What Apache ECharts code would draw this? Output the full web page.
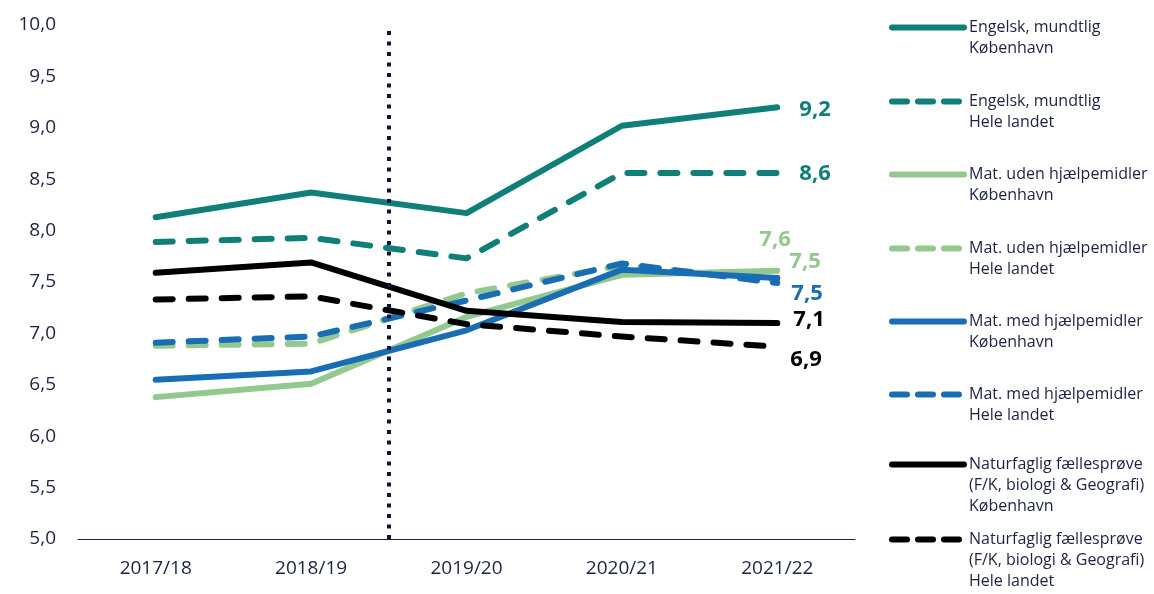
<!DOCTYPE html>
<html>
<head>
<meta charset="utf-8">
<script src="https://cdn.jsdelivr.net/npm/echarts@6/dist/echarts.min.js"></script>
<style>
html,body{margin:0;padding:0;background:#fff;}
#chart{width:1154px;height:594px;}
</style>
</head>
<body>
<div id="chart"></div>
<script>
// data
var categories = ['2017/18', '2018/19', '2019/20', '2020/21', '2021/22'];
var engKbh = [8.13, 8.37, 8.17, 9.02, 9.2];
var engHele = [7.89, 7.93, 7.73, 8.56, 8.56];
var matUdenKbh = [6.38, 6.51, 7.16, 7.57, 7.61];
var matUdenHele = [6.88, 6.90, 7.39, 7.66, 7.52];
var matMedKbh = [6.55, 6.63, 7.03, 7.62, 7.54];
var matMedHele = [6.91, 6.97, 7.32, 7.68, 7.49];
var natKbh = [7.59, 7.69, 7.22, 7.11, 7.1];
var natHele = [7.33, 7.36, 7.09, 6.97, 6.87];
var yTicks = { min: 5, max: 10, step: 0.5 };
var splitAfter = 2; // dotted line between 2018/19 and 2019/20

var teal = '#0f7f78', green = '#93c88e', blue = '#196db5', black = '#000000', navy = '#1b2343';
var dashes = [17, 16];
var lw = 6;
var font = '"Open Sans", "Noto Sans", sans-serif';

function komma(v) { return v.toFixed(1).replace('.', ','); }

function lineSerie(name, data, color, dashed, lbl) {
    var s = {
        name: name,
        type: 'line',
        data: data,
        symbol: 'none',
        lineStyle: { color: color, width: lw, type: dashed ? dashes : 'solid', cap: 'round', join: 'round' },
        itemStyle: { color: color },
        emphasis: { disabled: true }
    };
    if (lbl) {
        s.endLabel = {
            show: true,
            distance: 18,
            offset: lbl,
            formatter: function (p) { return komma(p.value); },
            color: color,
            fontFamily: font,
            fontWeight: 'bold',
            fontSize: 22
        };
    }
    return s;
}

var names = [
    'Engelsk, mundtlig\nKøbenhavn',
    'Engelsk, mundtlig\nHele landet',
    'Mat. uden hjælpemidler\nKøbenhavn',
    'Mat. uden hjælpemidler\nHele landet',
    'Mat. med hjælpemidler\nKøbenhavn',
    'Mat. med hjælpemidler\nHele landet',
    'Naturfaglig fællesprøve\n(F/K, biologi & Geografi)\nKøbenhavn',
    'Naturfaglig fællesprøve\n(F/K, biologi & Geografi)\nHele landet'
];
var legendY = [26, 100, 173, 247, 320, 393, 467, 542];
var lh = 21;

var series = [
    lineSerie(names[0], engKbh, teal, false, [4, 2]),
    lineSerie(names[1], engHele, teal, true, [4, 1]),
    lineSerie(names[2], matUdenKbh, green, false, [-36, -31]),
    lineSerie(names[3], matUdenHele, green, true, [-6, -18]),
    lineSerie(names[4], matMedKbh, blue, false, [-4, 16]),
    lineSerie(names[5], matMedHele, blue, true, null),
    lineSerie(names[6], natKbh, black, false, [-2, -3]),
    lineSerie(names[7], natHele, black, true, [-5, 13]),
    {
        type: 'line',
        xAxisIndex: 1,
        data: [],
        markLine: {
            silent: true,
            symbol: 'none',
            label: { show: false },
            lineStyle: { color: '#0b1636', width: 4, type: [4, 6.5] },
            data: [{ xAxis: splitAfter }]
        }
    }
];

// one legend per item; blank lines in front keep the first text line level with the icon
var legends = names.map(function (n, i) {
    var extra = n.split('\n').length - 1;
    return {
        data: [n],
        left: 889,
        top: legendY[i] - 7 - extra * lh - 4 * extra + 2,
        padding: 0,
        itemWidth: 72,
        itemHeight: 14,
        itemGap: 4,
        selectedMode: false,
        formatter: function (name) { return new Array(extra + 1).join('\n') + name; },
        itemStyle: { opacity: 0 },
        lineStyle: { width: lw, cap: 'round', type: i % 2 === 1 ? [15, 11] : 'solid' },
        textStyle: { color: navy, fontFamily: font, fontSize: 16, lineHeight: lh }
    };
});

var myChart = echarts.init(document.getElementById('chart'));
var option = {
    animation: false,
    backgroundColor: '#fff',
    legend: legends,
    grid: { left: 78, right: 299, top: 25, bottom: 55, containLabel: false },
    xAxis: [
        {
            type: 'category',
            data: categories,
            boundaryGap: true,
            axisTick: { show: false },
            axisLine: { lineStyle: { color: navy, width: 1.2 } },
            axisLabel: { color: navy, fontFamily: font, fontSize: 19, margin: 20 }
        },
        { type: 'value', min: 0, max: categories.length, show: false }
    ],
    yAxis: {
        type: 'value',
        min: yTicks.min,
        max: yTicks.max,
        interval: yTicks.step,
        splitLine: { show: false },
        axisLine: { show: false },
        axisTick: { show: false },
        axisLabel: { color: navy, fontFamily: font, fontSize: 19, margin: 22, formatter: komma }
    },
    series: series
};
myChart.setOption(option);
</script>
</body>
</html>
